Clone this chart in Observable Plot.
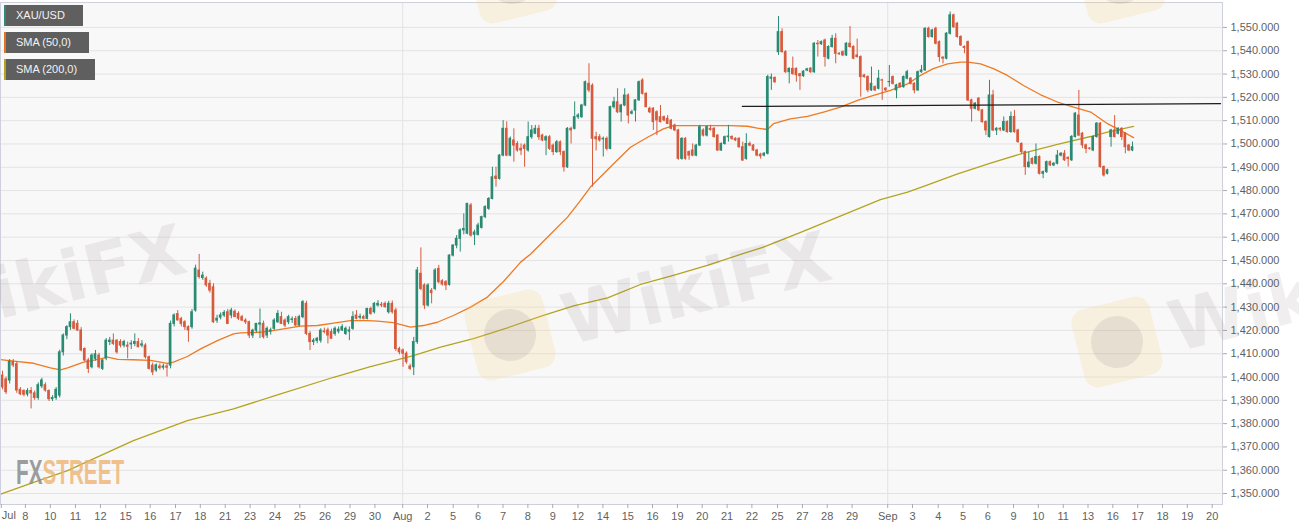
<!DOCTYPE html>
<html>
<head>
<meta charset="utf-8">
<script src="https://cdn.jsdelivr.net/npm/d3@7"></script>
<script src="https://cdn.jsdelivr.net/npm/@observablehq/plot@0.6"></script>
<style>
  html, body { margin: 0; padding: 0; background: #ffffff; }
  #wrap { position: relative; width: 1299px; height: 530px; overflow: hidden; font-family: "Liberation Sans", Arial, sans-serif; }
  #wrap svg.plot { display: block; }
  .leg { position: absolute; left: 4px; height: 21px; background: #5f5f5f; color: #f2f2f2; font-size: 11px; line-height: 21px; padding-left: 10px; box-sizing: border-box; border-left: 2px solid; }
  #wm { position: absolute; left: 0; top: 0; pointer-events: none; }
</style>
</head>
<body>
<div id="wrap"></div>
<script>
// ---- data (4h candles of XAU/USD, index = candle number) ----
const open = [
1400.6,1399,1398.5,1406.5,1405.5,1394.5,1394,1392.5,1394,1393,1391,1396,1396.5,1394,1390.5,1391,1392,1410.6,1417.8,1421.4,1423.5,1422.8,
1420,1412,1407.1,1404.2,1407.8,1409.2,1403.5,1408,1415,1415.6,1415.6,1415,1413.5,1413.5,1414,1414.2,1415,1413.5,1413.5,1408.5,
1404.9,1402.8,1404.5,1404,1404.5,1404.9,1422.8,1427,1424.9,1423.5,1421.4,1421.4,1428.5,1445.7,1442.5,1442.2,1440,1438.5,1424.2,1425.5,
1426.4,1427.8,1426.4,1428,1427.1,1425.7,1424.2,1423.5,1417.8,1419.9,1422.5,1422.8,1417.8,1419.5,1420.7,1423.5,1425.7,1424.2,1423.5,1424.5,
1424.9,1422.1,1425.7,1431.4,1418.5,1415,1415.5,1415.6,1419.5,1420,1419.3,1418.5,1419.5,1420,1418.5,1419.5,1420.7,1426.4,1425.5,
1425.7,1425,1429.2,1427.8,1430.7,1431,1431.4,1427.8,1431.4,1428.5,1412,1411.4,1410,1404.5,1404.2,
1415,1444.3,1439.3,1430.7,1437,1437.8,1446.4,1441.1,1440.7,1439.5,
1452.1,1456.4,1459.3,1462.9,1461.5,1473.6,1461,1461,1464,1468.6,1472.2,1476.4,1486,1485,1495,1506.5,1495,1501.5,1500,1497.9,
1499.3,1497.2,1502.9,1504.4,1506.5,1503.6,1501.5,1502.9,1499.3,1496.5,1500.7,1496.5,1490,1506.5,1506.5,1511.5,1511.5,1516.5,1525.8,1525,
1502.9,1502.9,1502,1502.2,1497.9,1515.8,1517.9,1513.6,1516.5,1520.8,1513,1514.3,1518.7,1527.2,1521.5,1515.1,1515.1,1513.6,1511.5,
1511.5,1510.8,1510,1507.9,1505.8,1493.6,1502.2,1496.5,1497.2,1495,1499.3,1505.8,1503.6,1506.5,1506.5,1503.6,1497.2,1500,1502.9,1503,
1502.2,1502.2,1498.6,
1493.6,1500,1499.3,1497.2,1495.4,1495,1495.8,1528,1528.3,1539.4,1548,1539.4,1530.8,1532.2,1532.2,1529.9,1529.1,1531.5,1532.3,1530.8,
1543,1542.8,1544.4,1536.6,1541.6,1545.1,1538.7,1539.4,1538,1543,1541.6,1538,1537.3,1529.4,1528.7,1523,1524.4,1523.7,1527.3,1523.7,
1526.5,1528.7,1523,1525.8,1524.4,1528,1528,1525.8,1523,1530.8,1531.6,1549.4,1545.9,1549.4,1543.7,1537,1536.6,1547.3,1555.2,1551.6,
1545.9,1541.6,1543.7,1518.7,1515.1,1519.4,1514.4,1509.4,1503,1520.8,1505.8,1506.5,1505.8,1509.4,1505.1,1511.6,1505.8,1500,1496.5,1490.1,
1493.6,1491.5,1494.4,1487.2,1487.9,1492.2,1490.8,1491.5,1495,1495.8,1494,1493,1503,1512.2,1504.4,1499.4,1498,1497.2,1503,1508.7,
1490.1,1487.2,1503,1505.8,1504.4,1506.5,1504.4,1499.3,1497.2
];
const high = [
1402.5,1400,1407.5,1407.5,1406.5,1395.5,1394.5,1395,1395.5,1394,1397.5,1399.5,1397.5,1394.5,1392,1395.5,1411.5,1418.5,1422,1427.1,1424.5,1424.2,
1421.2,1412.5,1408,1410,1411.4,1410.2,1407.5,1416.5,1417,1418.5,1416,1416,1415.8,1415,1415.6,1418.5,1416.5,1415.6,1414.3,1409,
1406,1405.6,1405.6,1405.5,1405.5,1424,1427.1,1428.5,1425.6,1424.2,1422,1429,1448,1452.6,1445,1443,1441.5,1440,1426.5,1427.5,
1428.5,1429,1429.5,1428.8,1428,1426.5,1425,1424,1420.5,1423,1429.2,1424,1421.5,1421,1425,1428.5,1427.8,1425,1426.5,1425.8,
1426,1426.5,1432.8,1432.5,1419.5,1416.5,1417,1420.7,1421,1421,1420.5,1421.5,1421.5,1422.5,1421.5,1421.5,1428,1428.5,1427,
1426.5,1429.5,1430,1432,1432.8,1432,1432.2,1432.5,1432.6,1429.5,1412.8,1412,1410.8,1405.5,1417,
1447,1455.4,1440,1440,1438,1446.5,1447.9,1441.8,1441.4,1452.5,
1456.8,1460.7,1463.5,1470,1474.5,1474.5,1463,1466,1469,1473.5,1477,1490,1490,1495.5,1510,1509.5,1503,1506.5,1501,1500,
1500,1509.4,1507.9,1508,1508,1504.2,1503.5,1503.6,1500,1501.5,1501.3,1497,1507,1507.2,1518,1513,1517,1527,1534.4,1525.8,
1505,1504,1503,1503,1516.2,1520,1523.7,1517,1523.7,1521.5,1514.5,1519,1527,1528,1522,1515.8,1515.6,1514.2,1516.5,
1512,1512.2,1510.5,1508.5,1506.3,1502.7,1502.7,1497,1500,1499.8,1508,1506.5,1507.7,1508,1507,1504,1500.5,1503.4,1508,1503.5,
1502.7,1502.7,1500.8,
1504.4,1500.8,1499.8,1497.7,1496,1496.3,1529.5,1530,1528.8,1554.7,1549.4,1540,1532.7,1537.3,1532.7,1530.3,1531.5,1532.5,1532.8,1543.5,
1544.4,1544.2,1545,1542.1,1546.6,1547.3,1539.2,1539.9,1543.5,1550.4,1542.1,1545,1537.8,1529.9,1529.2,1533,1524.9,1531.6,1527.8,1524.2,
1533.7,1529.2,1525.6,1526.3,1529.2,1531.6,1528.5,1526.3,1531.3,1533.7,1549.9,1550.1,1549.2,1550.1,1544.2,1537.5,1547.8,1556.6,1555.7,1552.1,
1546.4,1542.1,1544.2,1519.2,1517.8,1519.9,1514.9,1509.9,1527.3,1523,1507,1507,1511.6,1509.9,1513.7,1514.4,1506.3,1500.5,1497,1496.5,
1494.1,1500,1494.9,1488.4,1492.7,1492.7,1492,1497.2,1496.3,1497.2,1494.5,1503.6,1513.5,1523,1504.9,1499.9,1498.5,1503.5,1509.2,1509.2,
1490.6,1489.2,1506.3,1512.2,1507,1507,1504.9,1499.8,1500.8
];
const low = [
1394.5,1392.5,1397,1404,1393,1392,1391.5,1391.5,1386.3,1390,1390,1395,1393.5,1389.5,1389.5,1390,1391,1409,1416,1420,1420.2,1419.5,
1410.8,1406.5,1401.5,1403.5,1406.8,1403.5,1402.8,1407,1413.5,1413.5,1409.8,1412.5,1412.5,1407.8,1411.8,1413,1412.5,1412.5,1407.7,1403,
1400.6,1402,1403,1403,1400,1403.5,1421.5,1424,1421.5,1420,1414.9,1420.5,1427.8,1442,1441.5,1438.5,1436,1423,1423,1424.5,
1425.5,1422.5,1425,1425.6,1424.2,1423.8,1422.5,1416.5,1416.5,1419,1416.5,1416.3,1416.5,1418,1420,1423,1422.5,1421.2,1422.5,1423,
1421.5,1421.5,1425,1417.8,1411.4,1413.5,1414.3,1414.5,1418.5,1414.2,1416.3,1417.5,1418.5,1419.5,1417.8,1415.6,1420,1424.5,1424.5,
1424.5,1424.5,1426.5,1427,1430,1429.8,1429.5,1427,1427,1411,1409.5,1404.2,1405.5,1402.8,1400.6,
1414,1437,1429,1430,1431.4,1437,1440,1439,1437.1,1439,
1451.5,1455,1453.6,1461,1461,1460,1456.4,1460.5,1463.5,1468,1471.5,1476,1481.5,1484.5,1494.5,1494.5,1494.5,1492.2,1496.5,1495,
1490,1496.5,1502,1504,1501.5,1501,1495,1497.2,1495,1496,1495,1487.9,1489.5,1500,1506,1510.5,1511,1516,1522,1481.5,
1497,1500.8,1494.4,1497,1497.5,1515,1513,1509.4,1516,1508.6,1512.5,1509.4,1518.3,1521,1515.5,1513,1505.8,1503.6,1509,
1509.5,1508.3,1506,1505.3,1493,1493,1493,1493,1494.5,1494.5,1499,1503,1503,1505.5,1502.5,1496.8,1496.8,1499.5,1500.8,1501.5,
1501,1498.2,1492.5,
1493,1498.8,1496.8,1494.5,1493.5,1494.5,1495.3,1523,1526,1538,1539,1530.3,1525.8,1529.5,1526.5,1523,1528.6,1531,1530.3,1530.3,
1537.3,1542.3,1533,1536.1,1541.1,1534.4,1538,1537.5,1537.5,1541.1,1536.1,1536.8,1520.1,1528.2,1522,1522.5,1522.5,1523.2,1518.7,1522.5,
1524.4,1525.3,1519.4,1523.9,1523.9,1527.5,1525.3,1521.5,1522.5,1530.3,1531.1,1545.4,1545.4,1542.5,1535.1,1534.4,1536.1,1546.8,1549.6,1545.4,
1541.8,1538.7,1518.2,1509.4,1514.6,1513.9,1508.9,1503.6,1502.5,1505.3,1503.6,1505.3,1505.3,1504.6,1504.6,1504.6,1500.3,1495.5,1486.5,1489.6,
1491,1491,1486.7,1485.1,1487.4,1490.3,1490.3,1491,1494.5,1492.5,1490.1,1492.5,1502.5,1503.1,1498,1495.8,1497.4,1496.7,1502.5,1489.6,
1485.8,1486.7,1498.6,1502.5,1503.9,1501.5,1495.8,1496.7,1496.7
];
const close = [
1395.6,1393.5,1406.5,1405,1394.2,1392.6,1392.4,1394,1393,1391,1396.5,1398.5,1394.2,1390.5,1391,1394.5,1410.6,1417.8,1421.4,1423.5,1420.7,1420,
1411.4,1407.1,1403.5,1409.2,1409.8,1404.2,1407.1,1415.6,1415.6,1414.2,1410.6,1413.5,1415,1413,1414.3,1415,1412.8,1414,1408.5,1403.5,
1402,1405,1403.8,1404.5,1404,1422.8,1426.4,1424.3,1422.8,1421.4,1420,1427.8,1446.5,1442.9,1443.5,1439.3,1437.1,1423.5,1425,1426.4,
1427.5,1422.8,1428.5,1425.7,1425,1424.2,1423.5,1417.8,1419.9,1422.8,1423,1417.1,1420.7,1420,1424.2,1427.1,1422.8,1422.1,1425.7,1424.7,
1422.1,1425.7,1432.1,1418.5,1415,1415.6,1416.4,1419.9,1419.3,1417.8,1416.4,1420.7,1420.3,1421.4,1420.7,1420,1425.7,1425,1425.8,
1425,1429.2,1427.1,1431.4,1431.4,1430.7,1430,1431.4,1427.8,1412,1410.6,1410,1406.4,1403.5,1415,
1445.7,1437.8,1430.7,1439.3,1436,1445.7,1440.7,1439.7,1439.3,1452.1,
1456.4,1459.3,1462.9,1463.5,1474.3,1460.7,1462,1465,1468.6,1472.9,1476.4,1485.7,1485,1495,1506.5,1495,1502.2,1499.3,1497.2,1497.2,
1497.9,1502.9,1505.8,1506.5,1502.9,1501.5,1502.9,1497.9,1496.5,1500.7,1496.5,1490,1506.5,1505.8,1511.5,1512.2,1516.5,1526.5,1523,1502.2,
1502,1501.5,1502.2,1497.9,1515.8,1517.9,1513.6,1516.5,1520.8,1512.2,1513.6,1518.7,1526.5,1521.5,1515.8,1513.6,1509.4,1510.1,1509.4,
1510.1,1508.6,1506.5,1505.8,1493.6,1502.2,1493.6,1495,1495,1499.3,1507.2,1503.6,1507.2,1506,1503,1497.2,1500,1502.9,1503.2,1502.2,
1501.5,1498.6,1492.9,
1500,1499.3,1497.2,1495,1494.7,1495.8,1528.7,1528.5,1526.5,1548,1539.4,1530.8,1532.2,1530,1529.5,1529.1,1531,1532,1530.8,1543,
1542.8,1543.7,1537.3,1541.6,1545.1,1538.7,1538.5,1538,1543,1541.6,1536.6,1537.3,1528.7,1528.7,1523,1525.8,1523,1528,1527.2,1523,
1526.6,1525.8,1525.1,1524.4,1528.7,1530.8,1525.8,1523,1530.8,1531.6,1549.4,1545.9,1548.7,1543,1537.3,1536.6,1547.3,1555.2,1550.1,1545.9,
1542.3,1541.2,1518.7,1515.1,1517.3,1514.4,1509.4,1505.8,1520.8,1505.8,1506.5,1506.2,1509.4,1505.1,1511.6,1505.1,1500.8,1496.5,1490.1,1492,
1491.5,1494.4,1487.2,1487.9,1492.2,1490.8,1491.5,1495,1495.8,1493,1493.6,1503,1513,1503.6,1499.4,1497.9,1497.9,1503,1508.7,1490.1,
1486.5,1488.7,1505.8,1503,1506.5,1503,1498.6,1497.2,1498.6
];

// simple moving averages: [candle index, price]
const sma50 = [
[-0.5,1407.5],[3.1,1406.8],[8.7,1405.9],[13.4,1403.9],[16.2,1403.1],[18.2,1403.9],[22.7,1406.4],[27.4,1407.8],[29.4,1408.5],[32.2,1407.6],
[36.6,1407.4],[41.4,1407.1],[46.1,1405.9],[47.8,1406.4],[51.7,1408.8],[55.4,1412.1],[60.1,1415.6],[64.6,1418.5],[66.6,1418.9],[72.1,1419.2],
[76.9,1420.2],[83.3,1421.8],[88.1,1422.1],[92.6,1423.1],[97.3,1424.2],[102.1,1424.2],[104.9,1424.0],[109.3,1423.3],[114.1,1421.4],[117.7,1422.1],
[121.6,1423.5],[126.1,1426.4],[130.9,1430.0],[135.6,1434.3],[140.1,1441.0],[144.9,1449.3],[147.7,1452.8],[152.4,1460.0],[158.0,1468.6],[161.6,1475.7],
[164.4,1481.5],[170.9,1491.5],[175.6,1498.6],[180.4,1502.9],[184.8,1506.5],[187.6,1507.9],[194.4,1507.9],[198.8,1507.9],[203.6,1507.9],[208.3,1507.6],
[211.1,1506.8],[213.9,1506.2],[215.6,1508.7],[220.3,1510.8],[225.1,1511.8],[229.6,1513.7],[234.3,1515.8],[239.1,1518.7],[243.6,1520.8],[248.3,1523.0],
[253.1,1525.8],[256.7,1529.4],[260.3,1532.3],[264.3,1534.4],[267.9,1535.1],[269.9,1535.1],[273.5,1534.4],[277.1,1532.3],[281.0,1529.4],[285.5,1525.1],
[290.3,1521.1],[295.0,1518.0],[299.5,1515.8],[304.3,1513.7],[309.0,1508.7],[312.6,1505.8],[316.3,1502.7]
];
const sma200 = [
[-0.5,1349.8],[8.7,1354.8],[18.2,1359.8],[27.4,1366.3],[36.6,1372.7],[51.7,1381.3],[64.6,1386.3],[76.9,1392.3],[92.6,1399.9],[102.9,1404.5],
[114.9,1409.2],[122.5,1412.8],[131.7,1416.5],[141.2,1421.1],[150.4,1426.0],[159.7,1430.5],[169.2,1434.0],[178.4,1439.7],[187.6,1443.6],[197.1,1447.9],
[206.4,1452.6],[212.8,1455.7],[223.2,1462.1],[245.5,1476.1],[253.1,1479.3],[257.6,1481.8],[267.1,1487.2],[276.3,1491.8],[285.5,1496.1],[295.0,1499.8],
[304.3,1503.2],[309.0,1505.1],[316.3,1507.5]
];
// hand-drawn horizontal resistance line
const resistance = [[206.9,1516.1],[340.6,1517.3]];

// x-axis ticks (candle index) and their labels
const xTickPos = [-0.34,6.40,13.37,20.41,27.38,34.45,41.30,48.38,55.31,62.28,69.24,76.20,83.14,90.21,97.18,104.14,
  111.91,118.85,126.03,133.00,139.96,146.92,153.86,160.93,167.90,174.86,181.77,188.73,195.67,202.63,209.56,216.72,223.69,230.62,237.58,
  247.54,254.47,261.66,268.60,275.53,282.72,289.65,296.62,303.55,310.49,317.45,324.39,331.32,338.28];
const xTickLabels = ["Jul","8","10","11","12","15","16","17","18","21","23","24","25","26","29","30",
  "Aug","2","5","6","7","8","9","12","14","15","16","19","20","21","22","25","27","28","29",
  "Sep","3","4","5","6","9","10","11","13","16","17","18","19","20"];
const monthTicks = [111.91, 247.54];
const yTicks = d3.range(1350, 1551, 10);

const legendItems = [
  {label: "XAU/USD", color: "#2f8a74"},
  {label: "SMA (50,0)", color: "#e8731f"},
  {label: "SMA (200,0)", color: "#b3a420"}
];

// ---- build ----
const UP = "#2b8a72", DOWN = "#d85a3c";
const n = Math.min(open.length, high.length, low.length, close.length);
const candles = d3.range(n).map(i => ({i, o: open[i], h: high[i], l: low[i], c: close[i]}));
const labelOf = new Map(xTickPos.map((p, k) => [p, xTickLabels[k]]));

const chart = Plot.plot({
  width: 1299, height: 530,
  marginLeft: 0, marginRight: 77, marginTop: 2, marginBottom: 26,
  style: {fontFamily: "'Liberation Sans', Arial, sans-serif", fontSize: "11px", background: "#ffffff", color: "#666"},
  x: {domain: [-0.559, 341.16]},
  y: {domain: [1345.3, 1560.7]},
  color: {type: "identity"},
  marks: [
    Plot.frame({fill: "#f8f8f9", stroke: null}),
    Plot.ruleY(yTicks, {stroke: "#e3e3e6", strokeWidth: 1}),
    Plot.ruleX(monthTicks, {stroke: "#e3e3e6", strokeWidth: 1}),
    Plot.line(sma200, {x: d => d[0], y: d => d[1], stroke: "#b3a420", strokeWidth: 1.3, clip: true}),
    Plot.line(sma50, {x: d => d[0], y: d => d[1], stroke: "#ee7a22", strokeWidth: 1.3, clip: true}),
    Plot.ruleX(candles, {x: "i", y1: "l", y2: "h", stroke: d => d.c >= d.o ? UP : DOWN, strokeWidth: 1, clip: true}),
    Plot.rect(candles, {x1: d => d.i - 0.37, x2: d => d.i + 0.37,
      y1: d => Math.min(d.o, d.c), y2: d => Math.max(d.o, d.c),
      fill: d => d.c >= d.o ? UP : DOWN, insetTop: -0.5, insetBottom: -0.5, clip: true}),
    Plot.line(resistance, {x: d => d[0], y: d => d[1], stroke: "#1e1e1e", strokeWidth: 1.3, clip: true}),
    Plot.frame({stroke: "#cfd0dd", strokeWidth: 1}),
    Plot.axisY({anchor: "right", ticks: yTicks, tickFormat: d3.format(",.3f"), tickSize: 4, tickPadding: 4, stroke: "#aaa", fill: "#5f5f5f", label: null}),
    Plot.axisX({ticks: xTickPos, tickFormat: d => (d === xTickPos[0] ? "" : labelOf.get(d)), tickSize: 4, tickPadding: 4, stroke: "#aaa", fill: "#5f5f5f", label: null}),
    Plot.text([xTickLabels[0]], {x: () => xTickPos[0], text: d => d, frameAnchor: "bottom", dy: 14, dx: 0.5, textAnchor: "start", fill: "#5f5f5f"})
  ]
});
chart.classList.add("plot");
const wrap = document.getElementById("wrap");
wrap.appendChild(chart);

// watermark overlay (FXSTREET + faint WikiFX marks)
const ns = "http://www.w3.org/2000/svg";
const wm = document.createElementNS(ns, "svg");
wm.setAttribute("id", "wm");
wm.setAttribute("width", 1299);
wm.setAttribute("height", 530);
function wikiTile(cx, cy, withText) {
  const g = document.createElementNS(ns, "g");
  g.setAttribute("transform", `translate(${cx},${cy}) rotate(-14)`);
  g.innerHTML = `
    <rect x="-40" y="-40" width="80" height="80" rx="14" fill="rgba(250,210,120,0.2)"/>
    <circle cx="0" cy="0" r="26" fill="rgba(110,95,110,0.12)"/>` +
    (withText ? `<text x="55" y="24" font-family="'DejaVu Sans', sans-serif" font-weight="bold" font-size="70" fill="rgba(120,100,100,0.11)">WikiFX</text>` : "");
  return g;
}
[[-135, 328, true], [510, 335, true], [1117, 342, true], [512, -22, false], [1120, -22, false]]
  .forEach(p => wm.appendChild(wikiTile(p[0], p[1], p[2])));
// FXSTREET logo: one text, horizontally condensed by a transform
const fxg = document.createElementNS(ns, "g");
fxg.setAttribute("transform", "translate(16,484) scale(0.575,1)");
fxg.innerHTML = `<text x="0" y="0" font-family="'Liberation Sans', Arial, sans-serif" font-weight="bold" font-size="36"><tspan fill="rgba(140,140,140,0.85)">FX</tspan><tspan fill="rgba(238,178,112,0.8)">STREET</tspan></text>`;
wm.appendChild(fxg);
wrap.appendChild(wm);

// legend boxes
const legWidths = [79, 85, 91];
const legTops = [5, 32, 59];
legendItems.forEach((it, k) => {
  const d = document.createElement("div");
  d.className = "leg";
  d.style.top = legTops[k] + "px";
  d.style.width = legWidths[k] + "px";
  d.style.borderLeftColor = it.color;
  d.textContent = it.label;
  wrap.appendChild(d);
});
</script>
</body>
</html>
